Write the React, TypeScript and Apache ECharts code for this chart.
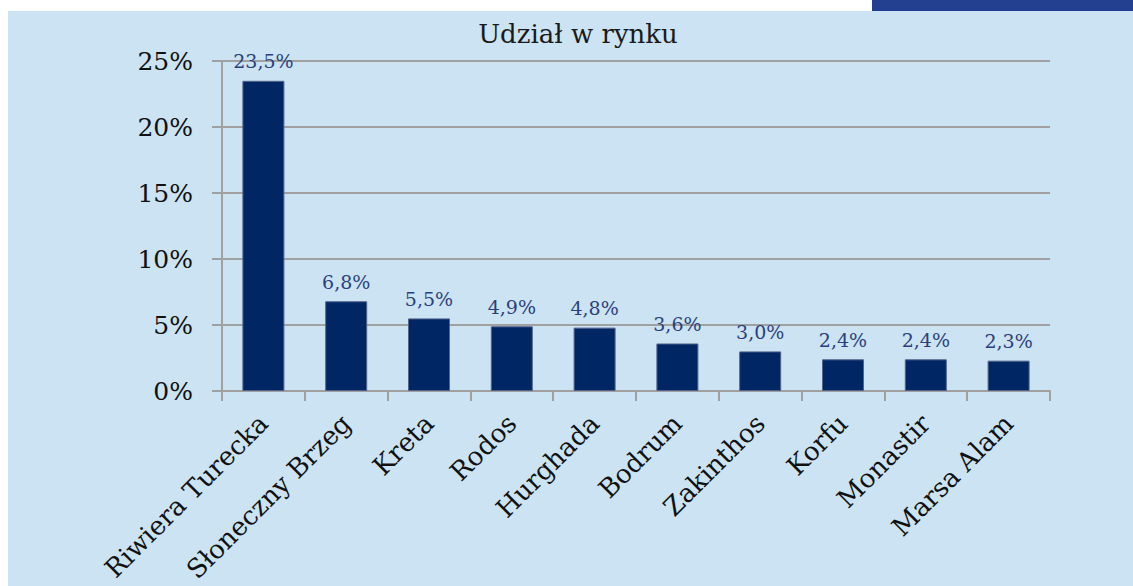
import React, { useEffect, useRef } from "react";
import * as echarts from "echarts";

const categories = [
  "Riwiera Turecka",
  "Słoneczny Brzeg",
  "Kreta",
  "Rodos",
  "Hurghada",
  "Bodrum",
  "Zakinthos",
  "Korfu",
  "Monastir",
  "Marsa Alam",
];
const shares = [23.5, 6.8, 5.5, 4.9, 4.8, 3.6, 3.0, 2.4, 2.4, 2.3];
const titleText = "Udział w rynku";

const FONT = "'DejaVu Serif', 'Liberation Serif', serif";

export default function App() {
  const ref = useRef<HTMLDivElement>(null);
  useEffect(() => {
    if (!ref.current) return;
    const chart = echarts.init(ref.current, null, { renderer: "svg" });
    chart.setOption({
      animation: false,
      backgroundColor: "#ffffff",
      graphic: [
        {
          type: "rect",
          z: -10,
          shape: { x: 8, y: 11, width: 1125, height: 575 },
          style: { fill: "#cbe3f2" },
          silent: true,
        },
        {
          type: "rect",
          z: -10,
          shape: { x: 872, y: 0, width: 261, height: 11 },
          style: { fill: "#233f8f" },
          silent: true,
        },
        {
          type: "text",
          x: 578,
          y: 34,
          style: {
            text: titleText,
            fill: "#1a1a1a",
            font: `26px ${FONT}`,
            textAlign: "center",
            textVerticalAlign: "middle",
          },
        },
      ],
      grid: { left: 222, right: 83, top: 61, bottom: 195, containLabel: false },
      xAxis: {
        type: "category",
        data: categories,
        axisLine: { show: true, lineStyle: { color: "#a0a0a0", width: 2 } },
        axisTick: { show: true, length: 10, alignWithLabel: false, lineStyle: { color: "#a0a0a0", width: 2 } },
        axisLabel: {
          rotate: 45,
          interval: 0,
          margin: 28,
          color: "#111111",
          fontFamily: FONT,
          fontSize: 26,
        },
      },
      yAxis: {
        type: "value",
        min: 0,
        max: 25,
        interval: 5,
        axisLine: { show: true, lineStyle: { color: "#a0a0a0", width: 2 } },
        axisTick: { show: true, length: 10, lineStyle: { color: "#a0a0a0", width: 2 } },
        splitLine: { show: true, lineStyle: { color: "#a0a0a0", width: 2 } },
        axisLabel: {
          margin: 29,
          color: "#111111",
          fontFamily: FONT,
          fontSize: 25,
          formatter: (v: number) => `${v}%`,
        },
      },
      series: [
        {
          type: "bar",
          data: shares,
          barWidth: 42,
          itemStyle: { color: "#002663", borderColor: "#52648c", borderWidth: 1 },
          label: {
            show: true,
            position: "top",
            distance: 10,
            color: "#2b3f7e",
            fontFamily: FONT,
            fontSize: 19,
            formatter: (p: any) => `${p.value.toFixed(1).replace(".", ",")}%`,
          },
        },
      ],
    });
    return () => chart.dispose();
  }, []);
  return (
    <div
      ref={ref}
      style={{ position: "fixed", left: 0, top: 0, width: 1133, height: 586 }}
    />
  );
}
